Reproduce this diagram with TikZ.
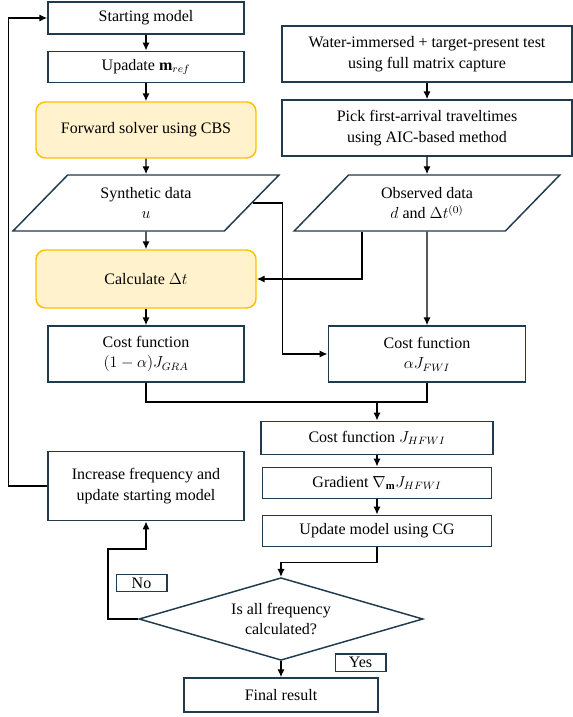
\documentclass[tikz,border=0pt]{standalone}
\usepackage{amsmath}
\usepackage{fontspec}
\setmainfont{Liberation Serif}
\usetikzlibrary{positioning,shapes.geometric,arrows.meta}
\definecolor{edge}{HTML}{1F3B4D}
\definecolor{solverfill}{HTML}{FFF2CC}
\definecolor{solveredge}{HTML}{FFC000}

\begin{document}
\begin{tikzpicture}[x=0.75pt, y=-0.75pt,
    font=\fontsize{12}{15.5}\selectfont,
    box/.style={draw=edge, line width=1.1pt, align=center, inner sep=0pt},
    solver/.style={box, draw=solveredge, fill=solverfill, rounded corners=7pt, minimum width=165pt, minimum height=42pt},
    data/.style={box, trapezium, trapezium left angle=45, trapezium right angle=135, trapezium stretches=true, minimum width=199.5pt, minimum height=42pt},
    tag/.style={draw=edge, line width=1pt, inner sep=0pt, minimum width=38pt, minimum height=13pt},
    flow/.style={-{Latex[length=6pt,width=5.5pt]}, line width=1.1pt}]
    \useasboundingbox (0,0) rectangle (573,717);

    \node[box, minimum width=147pt, minimum height=24pt] (start) at (146,18) {Starting model};
    \node[box, minimum width=147pt, minimum height=23.5pt] (update) at (146,67) {Upadate $\mathbf{m}_{ref}$};
    \node[solver] (fwd) at (146,130) {Forward solver using CBS};
    \node[data] (syn) at (146,203) {Synthetic data\\ $u$};
    \node[solver, minimum height=43.5pt] (calc) at (146,279) {Calculate $\Delta t$};
    \node[box, minimum width=147pt, minimum height=42pt] (gra) at (146,354) {Cost function\\ $(1-\alpha)J_{GRA}$};

    \node[box, minimum width=217.5pt, minimum height=42pt] (water) at (427,54) {Water-immersed + target-present test\\ using full matrix capture};
    \node[box, minimum width=217.5pt, minimum height=42pt] (pick) at (427,128) {Pick first-arrival traveltimes\\ using AIC-based method};
    \node[data] (obs) at (427,203) {Observed data\\ $d$ and $\Delta t^{(0)}$};
    \node[box, minimum width=148pt, minimum height=42pt] (fwi) at (427,354) {Cost function\\ $\alpha J_{FWI}$};

    \node[box, minimum width=174pt, minimum height=25pt] (hfwi) at (377,438) {Cost function $J_{HFWI}$};
    \node[box, minimum width=172pt, minimum height=23.5pt] (grad) at (377,483) {Gradient $\nabla_{\mathbf{m}}J_{HFWI}$};
    \node[box, minimum width=172pt, minimum height=23.5pt] (cg) at (377,531) {Update model using CG};
    \node[box, minimum width=147pt, minimum height=52pt] (inc) at (146,486) {Increase frequency and\\ update starting model};
    \node[box, diamond, shape aspect=3.42, minimum width=213pt, minimum height=62pt] (check) at (281,619) {Is all frequency\\ calculated?};
    \node[box, minimum width=145.5pt, minimum height=25.5pt] (final) at (281,695) {Final result};
    \node[tag] (no) at (141.5,583) {No};
    \node[tag] (yes) at (360.5,662.5) {Yes};

    \coordinate (join) at (377,402);
    \coordinate (nobend) at (108,549);

    \draw[flow] (start) -- (update);
    \draw[flow] (update) -- (fwd);
    \draw[flow] (fwd) -- (syn);
    \draw[flow] (syn) -- (calc);
    \draw[flow] (calc) -- (gra);
    \draw[flow] (water) -- (pick);
    \draw[flow] (pick) -- (obs);
    \draw[flow] (obs) -- (fwi);
    \draw[flow] ([xshift=-48.75pt]obs.south) |- (calc.east);
    \draw[flow] (syn.east) -- ++(30,0) |- (fwi.west);
    \draw[line width=1.1pt] (gra.south) |- (join) -| (fwi.south);
    \draw[flow] (join) -- (hfwi.north);
    \draw[flow] (hfwi) -- (grad);
    \draw[flow] (grad) -- (cg);
    \draw[flow] (cg.south) -- ++(0,15) -| (check.north);
    \draw[flow] (check) -- (final);
    \draw[flow] (check.west) -| (nobend) -| (inc.south);
    \draw[flow] (inc.west) -- ++(-39,0) |- (start.west);
\end{tikzpicture}
\end{document}
